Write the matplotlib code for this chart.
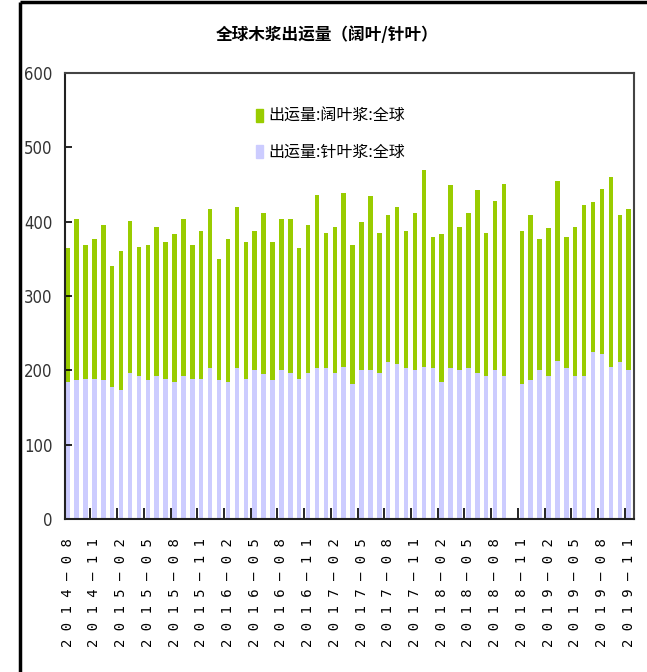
import matplotlib
matplotlib.use("Agg")
import matplotlib.pyplot as plt
from matplotlib.lines import Line2D
from matplotlib.patches import Patch
import numpy as np
import pandas as pd

# 月份 2014-08 ~ 2019-11, 2018-10 无数据
months = pd.date_range("2014-08", periods=64, freq="MS").strftime("%Y-%m").tolist()

softwood = [184, 187, 189, 189, 187, 178, 173, 197, 192, 187, 192, 189, 184, 192, 189, 189,
            203, 187, 184, 203, 189, 200, 195, 187, 200, 197, 189, 197, 203, 203, 197, 205,
            181, 200, 200, 197, 211, 208, 203, 200, 205, 203, 184, 203, 200, 203, 197, 192,
            200, 192, np.nan, 181, 187, 200, 192, 213, 203, 192, 192, 224, 222, 205, 211, 200]
hardwood = [180, 217, 180, 188, 209, 162, 188, 204, 174, 182, 201, 183, 199, 212, 180, 199,
            214, 163, 193, 217, 183, 188, 217, 185, 204, 207, 175, 199, 233, 182, 196, 234,
            188, 199, 234, 188, 198, 212, 185, 212, 264, 177, 199, 247, 193, 209, 245, 193,
            228, 258, np.nan, 207, 222, 177, 199, 242, 177, 201, 231, 202, 222, 255, 198, 217]

label_hw = "出运量:阔叶浆:全球"
label_sw = "出运量:针叶浆:全球"
title = "全球木浆出运量（阔叶/针叶）"

c_hw = "#99CC00"
c_sw = "#CCCCFF"

plt.rcParams['font.family'] = ['Noto Sans CJK SC', 'DejaVu Sans']

fig = plt.figure(figsize=(6.47, 6.72), dpi=100)
ax = fig.add_axes([65 / 647, 1 - 519 / 672, (634 - 65) / 647, (519 - 73) / 672])

x = np.arange(len(months))
sw = np.array(softwood, dtype=float)
hw = np.array(hardwood, dtype=float)
ax.bar(x, sw, width=0.5, color=c_sw, linewidth=0)
ax.bar(x, hw, bottom=sw, width=0.5, color=c_hw, linewidth=0)

ax.set_xlim(-0.3, 63.6)
ax.set_ylim(0, 600)

# y 轴
ax.set_yticks(range(0, 601, 100))
ax.tick_params(axis='y', direction='in', length=5, width=1.2, pad=9, labelsize=12,
               labelcolor='#333333')
for t in ax.get_yticklabels():
    t.set_family('DejaVu Sans')
    t.set_stretch('condensed')

# x 轴: 分组刻度 + 每三个月标签
ax.set_xticks(np.arange(2.55, 63, 3))
ax.set_xticklabels([])
ax.tick_params(axis='x', which='major', direction='in', length=8, width=1.2)
ax.set_xticks(x[::3], minor=True)
ax.set_xticklabels([" ".join(m.replace("-", "—")) for m in months[::3]],
                   minor=True, rotation=90, fontsize=10, family='DejaVu Sans Mono')
ax.tick_params(axis='x', which='minor', length=0, pad=14, colors='black')

for s in ['left', 'bottom']:
    ax.spines[s].set_linewidth(1.5)
    ax.spines[s].set_color('#222222')
for s in ['top', 'right']:
    ax.spines[s].set_linewidth(1.5)
    ax.spines[s].set_color('#444444')

handles = [Patch(color=c_hw, label=label_hw), Patch(color=c_sw, label=label_sw)]
fig.legend(handles=handles, loc='upper left', bbox_to_anchor=(256 / 647, 1 - 108 / 672),
           frameon=False, fontsize=11.5, handlelength=0.45, handleheight=0.9,
           handletextpad=0.3, labelspacing=1.2, borderpad=0, borderaxespad=0)

fig.text(0.505, 1 - 35 / 672, title, ha='center', va='center', fontsize=12, fontweight='bold')

# 外框
fig.add_artist(Line2D([20 / 647, 20 / 647], [0, 1 - 2 / 672], color='black', lw=2.5,
                      transform=fig.transFigure, solid_capstyle='butt'))
fig.add_artist(Line2D([20 / 647, 1], [1 - 2 / 672, 1 - 2 / 672], color='black', lw=2.5,
                      transform=fig.transFigure, solid_capstyle='butt'))

fig.savefig("out.png", dpi=100)
